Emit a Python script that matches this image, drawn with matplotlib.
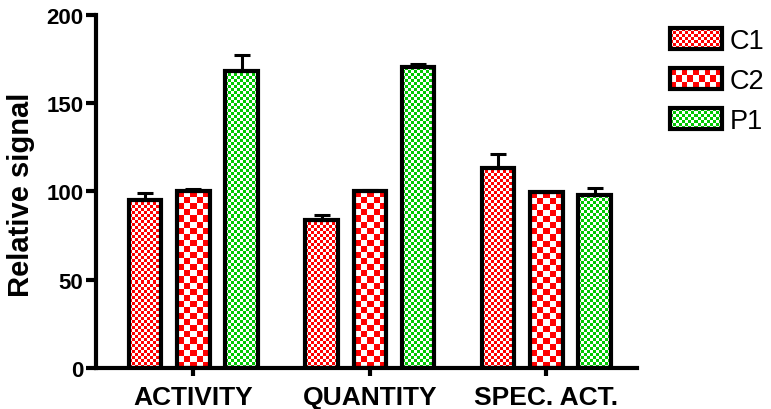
import numpy as np
import matplotlib
import matplotlib.pyplot as plt
from matplotlib.patches import Rectangle
from matplotlib.legend_handler import HandlerBase

plt.rcParams['font.family'] = ['Liberation Sans', 'DejaVu Sans']

# data
categories = ['ACTIVITY', 'QUANTITY', 'SPEC. ACT.']
series = ['C1', 'C2', 'P1']
c1 = [95.2, 84.0, 113.5]
c1_err = [4.0, 2.8, 7.5]
c2 = [100.0, 100.0, 99.5]
c2_err = [1.2, 1.0, 0.0]
p1 = [168.3, 170.5, 98.0]
p1_err = [9.0, 2.0, 3.8]

values = {'C1': c1, 'C2': c2, 'P1': p1}
errors = {'C1': c1_err, 'C2': c2_err, 'P1': p1_err}
colors = {'C1': '#ff0000', 'C2': '#ff0000', 'P1': '#00c800'}
cell_px = {'C1': 3, 'C2': 6, 'P1': 3}
offsets = {'C1': -0.274, 'C2': 0.0, 'P1': 0.273}
width = 0.183


def checker(nx, ny, color):
    rgb = np.array(matplotlib.colors.to_rgb(color))
    ii, jj = np.indices((ny, nx))
    img = np.ones((ny, nx, 3))
    img[(ii + jj) % 2 == 0] = rgb
    return img


class CheckerHandler(HandlerBase):
    def __init__(self, color, cell):
        super().__init__()
        self.color = color
        self.cell = cell

    def create_artists(self, legend, orig_handle, xdescent, ydescent,
                       width, height, fontsize, trans):
        x0, y0 = -xdescent, -ydescent
        arts = [Rectangle((x0, y0), width, height, facecolor='white',
                          edgecolor='none', transform=trans)]
        nx = max(1, int(round(width / self.cell)))
        ny = max(1, int(round(height / self.cell)))
        cw, ch = width / nx, height / ny
        for i in range(nx):
            for j in range(ny):
                if (i + j) % 2 == 0:
                    arts.append(Rectangle((x0 + i * cw, y0 + j * ch), cw, ch,
                                          facecolor=self.color, edgecolor='none',
                                          transform=trans))
        arts.append(Rectangle((x0, y0), width, height, fill=False,
                              edgecolor='black', linewidth=3, transform=trans))
        return arts


fig = plt.figure(figsize=(7.71, 4.10), dpi=100)
ax = fig.add_axes([0.1245, 0.1, 0.7016, 0.861])
ax.set_xlim(-0.552, 2.513)
ax.set_ylim(0, 200)

x = np.arange(len(categories))
handles = []
hmap = {}
for s in series:
    xs = x + offsets[s]
    bars = ax.bar(xs, values[s], width, color='white', edgecolor='none', zorder=2)
    for b in bars:
        bx, by = b.get_xy()
        bw, bh = b.get_width(), b.get_height()
        (px0, py0), (px1, py1) = ax.transData.transform([(bx, by), (bx + bw, by + bh)])
        nx = max(1, int(round((px1 - px0) / cell_px[s])))
        ny = max(1, int(round((py1 - py0) / cell_px[s])))
        ax.imshow(checker(nx, ny, colors[s]), extent=(bx, bx + bw, by, by + bh),
                  origin='lower', interpolation='nearest', aspect='auto', zorder=2.5)
    ax.errorbar(xs, values[s], yerr=[np.zeros(len(xs)), errors[s]], fmt='none',
                ecolor='black', elinewidth=2.2, capsize=6, capthick=2.2, zorder=3)
    ax.bar(xs, values[s], width, fill=False, edgecolor='black', linewidth=3, zorder=4)
    h = Rectangle((0, 0), 1, 1, label=s)
    handles.append(h)
    hmap[h] = CheckerHandler(colors[s], cell_px[s] * 0.72)

ax.set_xlim(-0.552, 2.513)
ax.set_ylim(0, 200)

for sp in ['top', 'right']:
    ax.spines[sp].set_visible(False)
for sp in ['left', 'bottom']:
    ax.spines[sp].set_linewidth(3)

ax.set_yticks([0, 50, 100, 150, 200])
ax.set_xticks(x)
ax.set_xticklabels(categories, fontsize=19, fontweight='bold')
for t in ax.get_yticklabels():
    t.set_fontsize(16)
    t.set_fontweight('bold')
ax.tick_params(axis='y', length=7, width=3, pad=2)
ax.tick_params(axis='x', length=6, width=3, pad=6)

ax.set_ylabel('Relative signal', fontsize=21, fontweight='bold')
ax.yaxis.set_label_coords(-0.113, 0.493)

fig.legend(handles=handles, labels=series, handler_map=hmap, loc='upper left',
           bbox_to_anchor=(0.869, 0.93), bbox_transform=fig.transFigure,
           frameon=False, fontsize=19.5, borderpad=0, borderaxespad=0,
           handlelength=1.92, handleheight=0.8, handletextpad=0.3,
           labelspacing=0.52)

fig.savefig('out.png', dpi=100)
